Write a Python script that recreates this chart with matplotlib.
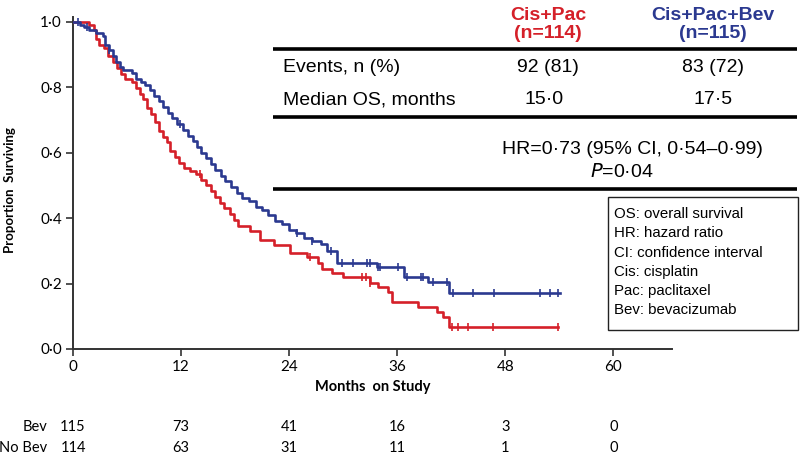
import numpy as np
import matplotlib
matplotlib.use('Agg')
import matplotlib.pyplot as plt
from matplotlib import transforms

# Kaplan-Meier steps: (months, proportion surviving after the drop)
bev_t = [0, 0.8, 1.2, 1.8, 2.6, 3.3, 3.6, 4.0, 4.4, 4.8, 5.2, 5.6, 6.6, 7.0, 7.6, 8.0,
         8.6, 9.0, 9.5, 10.0, 10.5, 11.0, 11.6, 12.2, 12.8, 13.3, 13.8, 14.2, 14.8, 15.3,
         15.8, 16.4, 16.9, 17.5, 18.2, 18.8, 19.5, 20.3, 21.0, 21.7, 22.4, 23.2, 24.0,
         24.8, 25.6, 26.5, 27.5, 28.2, 29.3, 33.8, 36.8, 39.4, 41.7, 54.1]
bev_s = [1.0, 0.991, 0.983, 0.974, 0.965, 0.957, 0.93, 0.913, 0.896, 0.878, 0.861, 0.852,
         0.843, 0.826, 0.817, 0.808, 0.791, 0.774, 0.757, 0.739, 0.722, 0.705, 0.687, 0.67,
         0.652, 0.635, 0.617, 0.600, 0.583, 0.565, 0.548, 0.530, 0.513, 0.495, 0.478, 0.461,
         0.452, 0.435, 0.426, 0.409, 0.391, 0.382, 0.365, 0.356, 0.339, 0.33, 0.32, 0.30,
         0.262, 0.252, 0.221, 0.206, 0.170, 0.170]

nobev_t = [0, 1.8, 2.3, 2.6, 2.9, 3.4, 3.9, 4.4, 4.9, 5.3, 5.8, 6.5, 7.0, 7.4, 7.8, 8.2,
           8.7, 9.1, 9.6, 10.0, 10.4, 10.8, 11.3, 11.8, 12.3, 13.0, 13.6, 14.2, 14.8, 15.3,
           15.8, 16.3, 16.8, 17.4, 17.9, 18.3, 19.7, 20.8, 22.3, 24.1, 26.0, 27.2, 27.6,
           28.8, 30.0, 33.0, 33.9, 35.0, 35.4, 38.3, 40.4, 41.1, 41.7, 53.8]
nobev_s = [1.0, 0.991, 0.974, 0.947, 0.93, 0.921, 0.895, 0.877, 0.86, 0.842, 0.825, 0.816,
           0.798, 0.781, 0.763, 0.737, 0.719, 0.693, 0.667, 0.649, 0.632, 0.605, 0.588,
           0.57, 0.553, 0.544, 0.535, 0.518, 0.500, 0.482, 0.465, 0.447, 0.43, 0.412, 0.395,
           0.377, 0.36, 0.333, 0.318, 0.294, 0.28, 0.263, 0.246, 0.231, 0.219, 0.201, 0.19,
           0.175, 0.145, 0.127, 0.114, 0.099, 0.068, 0.068]

# censored observations (months)
bev_cens = [0.6, 1.5, 4.0, 11.9, 24.9, 26.5, 28.6, 29.9, 31.1, 32.6, 33.0, 33.9, 34.1,
            36.1, 37.1, 38.6, 38.9, 40.0, 41.5, 42.2, 44.4, 46.7, 51.9, 53.0, 53.8]
nobev_cens = [14.1, 26.3, 32.1, 32.5, 33.0, 42.1, 42.7, 43.9, 46.6, 53.8]

# numbers at risk
risk_months = [0, 12, 24, 36, 48, 60]
risk_bev = [115, 73, 41, 16, 3, 0]
risk_nobev = [114, 63, 31, 11, 1, 0]

RED = '#d52029'
BLUE = '#2b3990'


def surv_at(t, times, surv):
    idx = np.searchsorted(times, t, side='right') - 1
    return np.asarray(surv)[idx]


fig = plt.figure(figsize=(8, 4.57), dpi=100)
ax = fig.add_axes([73 / 800, 1 - 349 / 457, 599 / 800, (349 - 16.7) / 457])

ax.step(nobev_t, nobev_s, where='post', color=RED, lw=1.9, zorder=3)
ax.step(bev_t, bev_s, where='post', color=BLUE, lw=1.9, zorder=4)
ax.plot(nobev_cens, surv_at(nobev_cens, nobev_t, nobev_s), ls='none', marker='|',
        ms=6, mew=1.2, color=RED, zorder=3)
ax.plot(bev_cens, surv_at(bev_cens, bev_t, bev_s), ls='none', marker='|',
        ms=6, mew=1.2, color=BLUE, zorder=4)

ax.set_xlim(0, 66.5)
ax.set_ylim(0, 1.016)
for s in ['top', 'right']:
    ax.spines[s].set_visible(False)
for s in ['left', 'bottom']:
    ax.spines[s].set_linewidth(1.4)
    ax.spines[s].set_color('#333333')
ax.set_xticks(risk_months)
ax.set_xticklabels([str(m) for m in risk_months], family='Lato', fontsize=11)
yt = [0, 0.2, 0.4, 0.6, 0.8, 1.0]
ax.set_yticks(yt)
ax.set_yticklabels([f'{v:.1f}'.replace('.', '\u00b7') for v in yt], family='Lato', fontsize=11)
ax.tick_params(direction='out', length=5, width=1.2, color='#333333', pad=3)

fig.text(10 / 800, 1 - 190 / 457, 'Proportion  Surviving', rotation=90, ha='center',
         va='center', family='Lato', fontweight='bold', fontsize=9.5)

tr = transforms.blended_transform_factory(ax.transAxes, fig.transFigure)
ax.text(0.5, 1 - 387 / 457, 'Months  on Study', transform=tr, ha='center', va='center',
        family='Lato', fontweight='bold', fontsize=10.5)

tr = transforms.blended_transform_factory(ax.transData, fig.transFigure)
for row, y in [(risk_bev, 427), (risk_nobev, 448)]:
    for m, n in zip(risk_months, row):
        ax.text(m, 1 - y / 457, str(n), transform=tr, ha='center', va='center',
                family='Lato', fontsize=10.5, clip_on=False)
fig.text(47 / 800, 1 - 427 / 457, 'Bev', ha='right', va='center', family='Lato', fontsize=10.5)
fig.text(47 / 800, 1 - 448 / 457, 'No Bev', ha='right', va='center', family='Lato', fontsize=10.5)

# summary table drawn over the plot, in pixel units
ov = fig.add_axes([0, 0, 1, 1], facecolor='none')
ov.set_xlim(0, 800)
ov.set_ylim(457, 0)
ov.axis('off')
tf = dict(family='Liberation Sans', fontsize=14)
c1, c2 = 548, 713
ov.text(c1, 15, 'Cis+Pac', color=RED, ha='center', va='center', fontweight='bold', **tf)
ov.text(c1, 34, '(n=114)', color=RED, ha='center', va='center', fontweight='bold', **tf)
ov.text(c2, 15, 'Cis+Pac+Bev', color=BLUE, ha='center', va='center', fontweight='bold', **tf)
ov.text(c2, 34, '(n=115)', color=BLUE, ha='center', va='center', fontweight='bold', **tf)
for y in [48.5, 117, 189]:
    ov.plot([273, 797], [y, y], color='black', lw=2.6, solid_capstyle='butt')
ov.text(283, 67, 'Events, n (%)', ha='left', va='center', **tf)
ov.text(c1, 67, '92 (81)', ha='center', va='center', **tf)
ov.text(c2, 67, '83 (72)', ha='center', va='center', **tf)
ov.text(283, 100, 'Median OS, months', ha='left', va='center', **tf)
ov.text(c1 - 4, 100, '15\u00b70', ha='center', va='center', **tf)
ov.text(c2, 100, '17\u00b75', ha='center', va='center', **tf)
ov.text(632, 150, 'HR=0\u00b773 (95% CI, 0\u00b754\u20130\u00b799)', ha='center', va='center', **tf)
ov.text(622, 172, '$\\it{P}$=0\u00b704', ha='center', va='center', **tf)

ov.add_patch(plt.Rectangle((607.5, 197), 190, 133, fill=False, ec='#222222', lw=1.0))
abbrevs = ['OS: overall survival', 'HR: hazard ratio', 'CI: confidence interval',
           'Cis: cisplatin', 'Pac: paclitaxel', 'Bev: bevacizumab']
for i, a in enumerate(abbrevs):
    ov.text(614, 214 + i * 19.3, a, ha='left', va='center', family='Liberation Sans', fontsize=10.8)

fig.savefig('out.png', dpi=100)
